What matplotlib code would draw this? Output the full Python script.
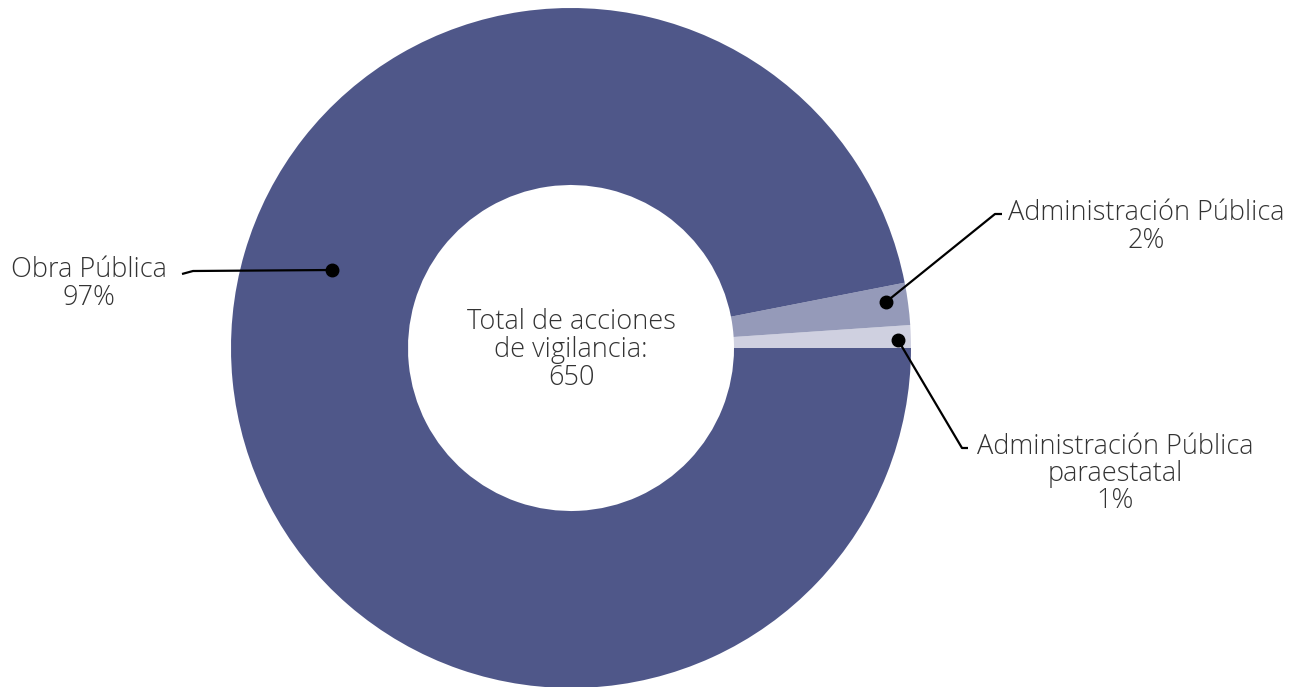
import matplotlib.pyplot as plt

# data
labels = ['Administración Pública\nparaestatal', 'Administración Pública', 'Obra Pública']
counts = [7, 13, 630]
pct_labels = ['1%', '2%', '97%']
colors = ['#CFD0E0', '#959AB9', '#4F5789']
total = 650

W, H = 1297, 687
fig = plt.figure(figsize=(W / 100, H / 100), dpi=100)
ax = fig.add_axes([0, 0, 1, 1])

cx, cy, r = 571, H - 348, 340
ax.pie(counts, colors=colors, startangle=0, counterclock=True,
       center=(cx, cy), radius=r, frame=True,
       wedgeprops=dict(width=r - 163, linewidth=0))
ax.set_xlim(0, W)
ax.set_ylim(0, H)
ax.set_aspect('equal')
ax.axis('off')

font = dict(family='Open Sans', fontweight='light', color='#333333', fontsize=19.5)

ax.text(cx, H - 350, 'Total de acciones\nde vigilancia:\n' + str(total),
        ha='center', va='center', linespacing=1.0, **font)

# leader lines (pixel coords, y from top)
def leader(pts):
    xs = [p[0] for p in pts]
    ys = [H - p[1] for p in pts]
    ax.plot(xs, ys, color='black', lw=1.6, solid_capstyle='butt')
    ax.plot(xs[0], ys[0], 'o', color='black', ms=9)

leader([(332, 270), (193, 271), (182, 274)])
leader([(886, 302), (995, 214), (1002, 214)])
leader([(898, 340), (962, 448), (968, 448)])

ax.text(89, H - 284, labels[2] + '\n' + pct_labels[2], ha='center', va='center',
        linespacing=0.97, **font)
ax.text(1146, H - 227, labels[1] + '\n' + pct_labels[1], ha='center', va='center',
        linespacing=0.97, **font)
ax.text(1115, H - 474, labels[0] + '\n' + pct_labels[0], ha='center', va='center',
        linespacing=0.97, **font)

fig.savefig('out.png', dpi=100)
